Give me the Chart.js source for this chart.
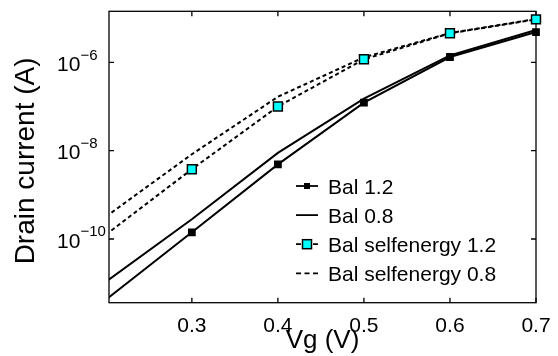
<!DOCTYPE html>
<html>
<head>
<meta charset="utf-8">
<script src="https://cdn.jsdelivr.net/npm/chart.js@4.4.1/dist/chart.umd.min.js"></script>
<style>
  html, body { margin: 0; padding: 0; background: #fff; }
</style>
</head>
<body>
<canvas id="myChart" width="558" height="356"></canvas>
<script>
// values
const vg = [0.2, 0.3, 0.4, 0.5, 0.6, 0.7];
const bal12 = [4.2e-12, 1.42e-10, 4.9e-9, 1.22e-7, 1.32e-6, 4.85e-6];
const bal08 = [1.07e-11, 2.8e-10, 8.9e-9, 1.5e-7, 1.43e-6, 5.4e-6];
const selfE12 = [1.25e-10, 3.8e-9, 1.0e-7, 1.17e-6, 4.54e-6, 9.4e-6];
const selfE08 = [3.2e-10, 8.3e-9, 1.66e-7, 1.3e-6, 4.6e-6, 9.6e-6];
const seriesNames = ["Bal 1.2", "Bal 0.8", "Bal selfenergy 1.2", "Bal selfenergy 0.8"];
const xTicks = [0.3, 0.4, 0.5, 0.6, 0.7];
const yTicks = [1e-10, 1e-8, 1e-6];

const FONT = '"Liberation Sans", Arial, Helvetica, sans-serif';
Chart.defaults.font.family = FONT;
Chart.defaults.color = '#000';

function pts(arr) {
  return vg.map((x, i) => ({ x: x, y: arr[i] }));
}
// no marker on the point that sits left of the axis
function radius(r) {
  return vg.map(v => v < 0.25 ? 0 : r);
}

// box + inward ticks + 10^n labels, drawn under the data
const frame = {
  id: 'frame',
  beforeDatasetsDraw(chart) {
    const { ctx, chartArea: a, scales: { x, y } } = chart;
    ctx.save();
    ctx.strokeStyle = '#000';
    ctx.lineWidth = 1.3;
    ctx.strokeRect(a.left, a.top, a.right - a.left, a.bottom - a.top);
    ctx.beginPath();
    xTicks.forEach(v => {
      const px = x.getPixelForValue(v);
      ctx.moveTo(px, a.bottom); ctx.lineTo(px, a.bottom - 5);
      ctx.moveTo(px, a.top); ctx.lineTo(px, a.top + 5);
    });
    yTicks.forEach(v => {
      const py = y.getPixelForValue(v);
      ctx.moveTo(a.left, py); ctx.lineTo(a.left + 5, py);
      ctx.moveTo(a.right, py); ctx.lineTo(a.right - 5, py);
    });
    ctx.stroke();

    ctx.fillStyle = '#000';
    ctx.textAlign = 'left';
    ctx.textBaseline = 'alphabetic';
    yTicks.forEach(v => {
      const py = y.getPixelForValue(v);
      ctx.font = '21px ' + FONT;
      ctx.fillText('10', 57, py + 8.8);
      ctx.font = '15px ' + FONT;
      ctx.fillText('\u2212' + Math.round(-Math.log10(v)), 80.5, py - 2.5);
    });
    ctx.restore();
  }
};

// legend sitting inside the plot, lower right
const legendBox = {
  id: 'legendBox',
  afterDatasetsDraw(chart) {
    const ctx = chart.ctx;
    ctx.save();
    chart.data.datasets.forEach((ds, i) => {
      const ly = 186 + 29.1 * i;
      ctx.strokeStyle = '#000';
      ctx.lineWidth = 1.8;
      ctx.setLineDash(ds.borderDash ? [5, 3.5] : []);
      ctx.beginPath();
      ctx.moveTo(296, ly);
      ctx.lineTo(318, ly);
      ctx.stroke();
      ctx.setLineDash([]);
      if (ds.legendSquare) {
        const s = ds.legendSquare;
        ctx.fillStyle = ds.pointBackgroundColor;
        ctx.fillRect(307 - s / 2, ly - s / 2, s, s);
        if (ds.pointBorderWidth) {
          ctx.lineWidth = ds.pointBorderWidth;
          ctx.strokeRect(307 - s / 2, ly - s / 2, s, s);
        }
      }
      ctx.fillStyle = '#000';
      ctx.font = '21px ' + FONT;
      ctx.textAlign = 'left';
      ctx.textBaseline = 'alphabetic';
      ctx.fillText(ds.label, 328, ly + 7.5);
    });
    ctx.restore();
  }
};

const clipBox = { left: 0, top: 10, right: 10, bottom: 0 };

const myChart = new Chart(document.getElementById('myChart'), {
  type: 'line',
  data: {
    datasets: [
      {
        label: seriesNames[0],
        data: pts(bal12),
        borderColor: '#000',
        borderWidth: 2,
        pointStyle: 'rect',
        pointRadius: radius(5.5),
        pointBackgroundColor: '#000',
        pointBorderWidth: 0,
        legendSquare: 6,
        clip: clipBox
      },
      {
        label: seriesNames[1],
        data: pts(bal08),
        borderColor: '#000',
        borderWidth: 2,
        pointRadius: 0,
        clip: clipBox
      },
      {
        label: seriesNames[2],
        data: pts(selfE12),
        borderColor: '#000',
        borderWidth: 2,
        borderDash: [4, 3],
        pointStyle: 'rect',
        pointRadius: radius(6.3),
        pointBackgroundColor: '#00ffff',
        pointBorderColor: '#000',
        pointBorderWidth: 1.5,
        legendSquare: 9,
        clip: clipBox
      },
      {
        label: seriesNames[3],
        data: pts(selfE08),
        borderColor: '#000',
        borderWidth: 2,
        borderDash: [4, 3],
        pointRadius: 0,
        clip: clipBox
      }
    ]
  },
  options: {
    responsive: false,
    animation: false,
    events: [],
    layout: { padding: { top: 11.3, right: 22, left: 0, bottom: 0 } },
    plugins: {
      legend: { display: false },
      tooltip: { enabled: false }
    },
    scales: {
      x: {
        type: 'linear',
        min: 0.2037,
        max: 0.7,
        grid: { display: false },
        border: { display: false },
        afterBuildTicks: s => { s.ticks = xTicks.map(v => ({ value: v })); },
        afterFit: s => { s.height = 53.3; },
        ticks: {
          font: { size: 21 },
          color: '#000',
          padding: 3,
          maxRotation: 0,
          autoSkip: false,
          callback: v => v.toFixed(1)
        },
        title: {
          display: true,
          text: 'Vg (V)',
          font: { size: 26 },
          color: '#000',
          padding: { top: 0, bottom: 0 }
        }
      },
      y: {
        type: 'logarithmic',
        min: 3.61e-12,
        max: 1.43e-5,
        grid: { display: false },
        border: { display: false },
        ticks: { display: false },
        afterFit: s => { s.width = 109; },
        title: {
          display: true,
          text: 'Drain current (A) ',
          font: { size: 28 },
          color: '#000',
          padding: { top: 9.5, bottom: 0 }
        }
      }
    }
  },
  plugins: [frame, legendBox]
});
</script>
</body>
</html>
